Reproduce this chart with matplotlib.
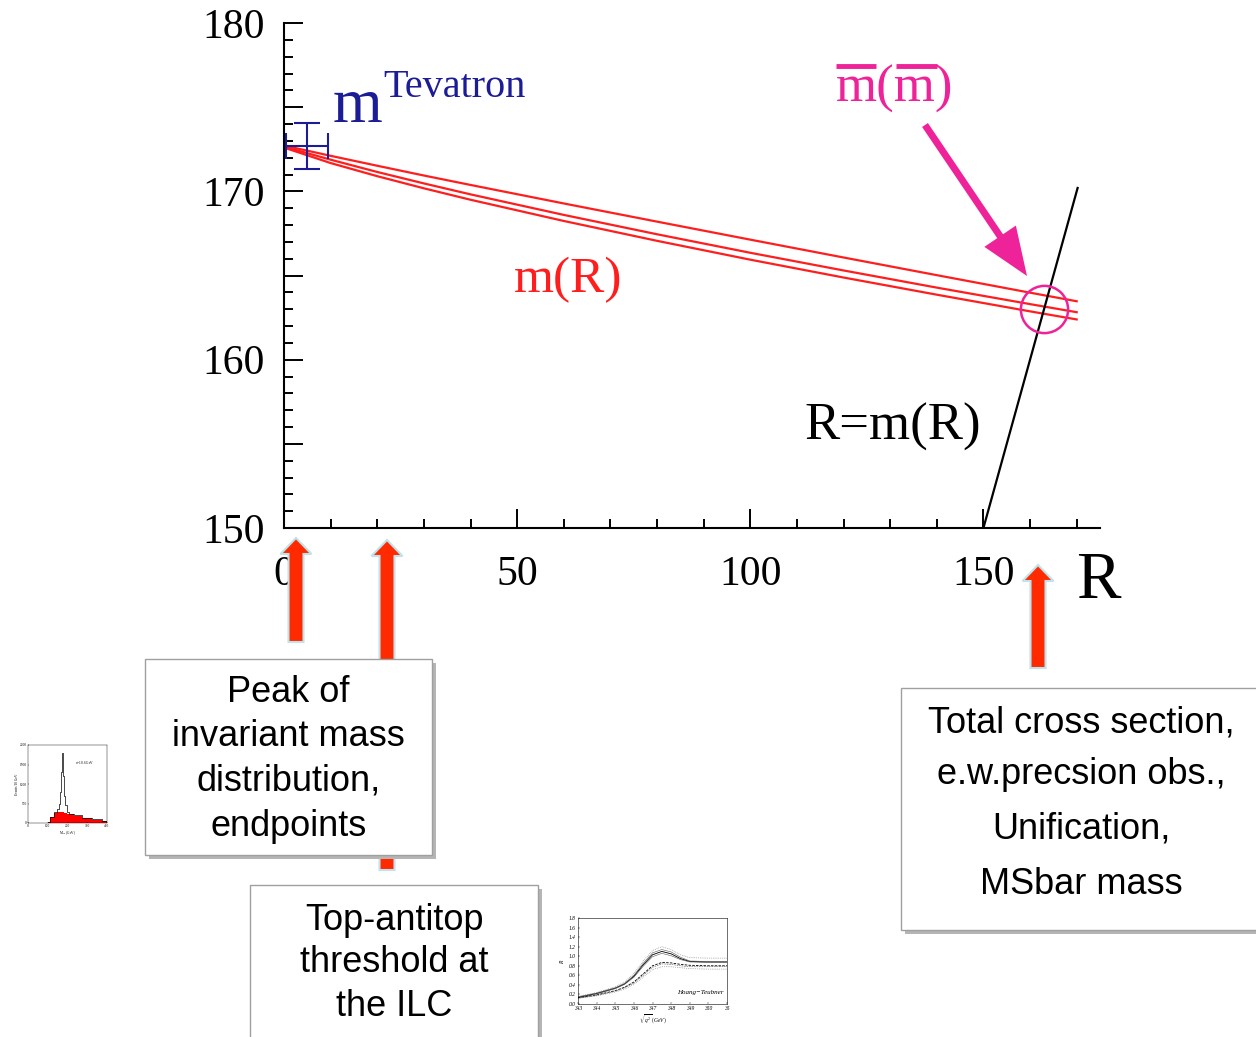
import matplotlib
matplotlib.use("Agg")
import matplotlib.pyplot as plt
from matplotlib.patches import Rectangle, FancyArrow
from matplotlib.ticker import MultipleLocator

plt.rcParams['font.family'] = ['Liberation Serif', 'DejaVu Serif']
plt.rcParams['mathtext.fontset'] = 'custom'
plt.rcParams['mathtext.rm'] = 'Liberation Serif'
plt.rcParams['mathtext.it'] = 'Liberation Serif:italic'

# ==========
# running mass m(R), three lines of the band
R_vals = [0, 10, 20, 30, 40, 60, 80, 100, 120, 140, 160, 170]
m_hi = [172.72, 172.11, 171.52, 170.94, 170.38, 169.28, 168.2, 167.13, 166.07, 165.02, 163.98, 163.47]
m_mid = [172.65, 171.88, 171.15, 170.47, 169.82, 168.6, 167.45, 166.35, 165.3, 164.28, 163.3, 162.82]
m_lo = [172.6, 171.68, 170.9, 170.18, 169.5, 168.24, 167.06, 165.94, 164.88, 163.86, 162.87, 162.39]

# R = m(R) line and the fixed point
R_diag = [150, 170.2]
R_fix = 163.0

# Tevatron point
tev_R, tev_m = 5.0, 172.7
tev_dR, tev_dm = 4.5, 1.35

# inset 1: invariant mass distribution
M_bins = [100, 120, 140, 150, 160, 165, 170, 175, 180, 185, 190, 200, 220, 250, 300, 350, 400]
ev_all = [20, 150, 270, 350, 500, 800, 1300, 1800, 1200, 700, 450, 280, 230, 200, 140, 90, 50]
ev_red = [20, 150, 250, 280, 290, 290, 290, 280, 270, 260, 250, 240, 220, 190, 130, 80, 40]

# inset 2: threshold scan
sq = [343, 344, 345, 345.5, 346, 346.5, 347, 347.5, 348, 348.5, 349, 350, 351]
R_sol = [0.14, 0.22, 0.33, 0.42, 0.58, 0.82, 1.03, 1.10, 1.05, 0.95, 0.89, 0.88, 0.88]
R_sol_hi = [0.15, 0.23, 0.34, 0.43, 0.60, 0.85, 1.07, 1.14, 1.09, 0.98, 0.90, 0.89, 0.89]
R_sol_lo = [0.13, 0.21, 0.32, 0.41, 0.56, 0.79, 0.99, 1.06, 1.01, 0.93, 0.88, 0.87, 0.87]
R_das = [0.13, 0.19, 0.28, 0.35, 0.46, 0.63, 0.80, 0.87, 0.86, 0.83, 0.81, 0.80, 0.80]
R_das2 = [0.12, 0.18, 0.27, 0.34, 0.44, 0.60, 0.77, 0.84, 0.83, 0.80, 0.78, 0.78, 0.78]
R_dot_hi = [0.16, 0.24, 0.36, 0.46, 0.64, 0.90, 1.12, 1.20, 1.14, 1.03, 0.97, 0.96, 0.96]
R_dot_lo = [0.12, 0.17, 0.25, 0.31, 0.41, 0.56, 0.72, 0.78, 0.78, 0.76, 0.74, 0.73, 0.73]
# ==========

red = '#ff1e1e'
blue = '#1c1c96'
pink = '#ee2299'
arrow_red = '#ff2a00'

fig = plt.figure(figsize=(12.56, 10.37), dpi=100)

ax = fig.add_axes([284/1256, 1 - 528/1037, (1100-284)/1256, (528-23)/1037])
ax.set_zorder(1)
for x in (m_hi, m_mid, m_lo):
    ax.plot(R_vals, x, color=red, lw=1.6)
ax.plot(R_diag, R_diag, color='black', lw=1.6)
ax.plot([R_fix], [R_fix], 'o', ms=34, mfc='none', mec=pink, mew=1.8)
ax.errorbar([tev_R], [tev_m], xerr=tev_dR, yerr=tev_dm, fmt='none', ecolor=blue,
            elinewidth=1.5, capsize=9.7, capthick=1.5)

ax.set_xlim(0, 175)
ax.set_ylim(150, 180)
ax.spines['top'].set_visible(False)
ax.spines['right'].set_visible(False)
for s in ('left', 'bottom'):
    ax.spines[s].set_linewidth(1.5)
ax.xaxis.set_major_locator(MultipleLocator(50))
ax.xaxis.set_minor_locator(MultipleLocator(10))
ax.yaxis.set_minor_locator(MultipleLocator(1))
ax.set_yticks(range(150, 181, 5))
ax.set_yticklabels(['150', '', '160', '', '170', '', '180'])
ax.tick_params(which='both', direction='in', width=1.4, labelsize=30)
ax.tick_params(which='major', length=13.5)
ax.tick_params(which='minor', length=6.5)
ax.tick_params(axis='x', pad=20)
ax.tick_params(axis='y', pad=14)
ax.patch.set_alpha(0)

# overlay in pixel coordinates for the slide decorations
ov = fig.add_axes([0, 0, 1, 1])
ov.set_zorder(2)
ov.set_xlim(0, 1256)
ov.set_ylim(1037, 0)
ov.axis('off')
ov.patch.set_alpha(0)

ov.text(333, 122, 'm', fontsize=46, color=blue, va='baseline')
ov.text(383, 97, 'Tevatron', fontsize=29, color=blue, va='baseline')
ov.text(895, 102, 'm(m)', fontsize=38, color=pink, ha='center', va='baseline')
ov.plot([836, 876], [66, 66], color=pink, lw=3.5, solid_capstyle='butt')
ov.plot([896, 937], [66, 66], color=pink, lw=3.5, solid_capstyle='butt')
ov.text(568, 292, 'm(R)', fontsize=37, color=red, ha='center', va='baseline')
ov.text(893, 440, 'R=m(R)', fontsize=38, color='black', ha='center', va='baseline')
ov.text(1098, 598, 'R', fontsize=48, color='black', ha='center', va='baseline')

ov.add_patch(FancyArrow(925, 125, 102, 151, width=7, head_width=38, head_length=48,
                        length_includes_head=True, color=pink, lw=0))

for x0, y0, y1 in [(296, 642, 538), (387, 870, 540), (1038, 668, 565)]:
    ov.add_patch(FancyArrow(x0, y0, 0, y1 - y0, width=15, head_width=31, head_length=16,
                            length_includes_head=True, fc=arrow_red, ec='#bfe3ea', lw=1.5))


def box(x0, y0, x1, y1, lines, ys, size):
    ov.add_patch(Rectangle((x0 + 4, y0 + 4), x1 - x0, y1 - y0, fc='#b5b5b5', ec='none'))
    ov.add_patch(Rectangle((x0, y0), x1 - x0, y1 - y0, fc='white', ec='#a0a0a0', lw=1))
    for t, y in zip(lines, ys):
        ov.text((x0 + x1) / 2, y, t, fontsize=size, ha='center', va='center',
                family=['Liberation Sans', 'DejaVu Sans'])


box(145, 659, 432, 855, ['Peak of', 'invariant mass', 'distribution,', 'endpoints'],
    [693, 737, 781, 826], 26)
box(250, 885, 538, 1045, ['Top-antitop', 'threshold at', 'the ILC'], [921, 963, 1007], 26)
box(901, 688, 1262, 930, ['Total cross section,', 'e.w.precsion obs.,', 'Unification,', 'MSbar mass'],
    [723, 775, 829, 884], 26)

# inset 1
a1 = fig.add_axes([28/1256, 1 - 823/1037, 79/1256, 78/1037])
a1.set_zorder(3)
a1.fill_between(M_bins, ev_red, step='mid', color='red', lw=0)
a1.step(M_bins, ev_all, where='mid', color='black', lw=0.5)
a1.set_xlim(0, 400)
a1.set_ylim(0, 2000)
a1.set_xticks([0, 100, 200, 300, 400])
a1.set_yticks([0, 500, 1000, 1500, 2000])
a1.tick_params(labelsize=2.5, length=1, width=0.3, direction='in', pad=1)
for s in a1.spines.values():
    s.set_linewidth(0.3)
a1.set_xlabel(r'M$_{\rm jjb}$ (GeV)', fontsize=2.5, labelpad=0.5)
a1.set_ylabel('Events/10 GeV', fontsize=2.5, labelpad=0.5)
a1.text(240, 1500, r'$\sigma$=10.6 GeV', fontsize=2.5)

# inset 2
a2 = fig.add_axes([578/1256, 1 - 1004/1037, (727-578)/1256, (1004-918)/1037])
a2.set_zorder(3)
a2.plot(sq, R_sol, color='black', lw=0.6)
a2.plot(sq, R_sol_hi, color='#555555', lw=0.4)
a2.plot(sq, R_sol_lo, color='#555555', lw=0.4)
a2.plot(sq, R_das, color='black', lw=0.6, ls='--', dashes=(3, 1.5))
a2.plot(sq, R_das2, color='#555555', lw=0.4, ls='--', dashes=(3, 1.5))
a2.plot(sq, R_dot_hi, color='#777777', lw=0.5, ls=':')
a2.plot(sq, R_dot_lo, color='#777777', lw=0.5, ls=':')
a2.set_xlim(343, 351)
a2.set_ylim(0, 1.8)
a2.set_xticks(range(343, 352))
a2.set_xticklabels(['343', '344', '345', '346', '347', '348', '349', '350', '35'])
a2.set_yticks([0.0, 0.2, 0.4, 0.6, 0.8, 1.0, 1.2, 1.4, 1.6, 1.8])
a2.set_yticklabels(['0.0', '0.2', '0.4', '0.6', '0.8', '1.0', '1.2', '1.4', '1.6', '1.8'])
a2.tick_params(labelsize=4, length=1.5, width=0.3, direction='in', pad=1.5)
for lab in a2.get_xticklabels() + a2.get_yticklabels():
    lab.set_fontstyle('italic')
for s in a2.spines.values():
    s.set_linewidth(0.4)
a2.set_xlabel(r'$\sqrt{q^2}$ $(GeV)$', fontsize=4, labelpad=1)
a2.set_ylabel(r'$R$', fontsize=4, labelpad=2)
a2.text(350.8, 0.2, 'Hoang\u2212Teubner', fontsize=5, style='italic', ha='right')

fig.savefig('out.png', dpi=100)
